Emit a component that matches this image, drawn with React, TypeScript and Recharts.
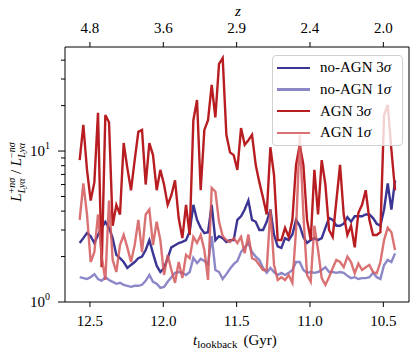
import { LineChart, Line, XAxis, YAxis, Legend, ReferenceArea } from 'recharts';

const FONT = '"Liberation Serif", "DejaVu Serif", serif';

// lookback time (Gyr), shared by all series
const tLookback = [
  12.57, 12.545, 12.52, 12.495, 12.47, 12.445, 12.42, 12.395, 12.37, 12.345,
  12.32, 12.295, 12.27, 12.245, 12.22, 12.195, 12.17, 12.145, 12.12, 12.095,
  12.07, 12.045, 12.02, 11.995, 11.97, 11.945, 11.92, 11.895, 11.87, 11.845,
  11.82, 11.795, 11.77, 11.745, 11.72, 11.695, 11.67, 11.645, 11.62, 11.595,
  11.57, 11.545, 11.52, 11.495, 11.47, 11.445, 11.42, 11.395, 11.37, 11.345,
  11.32, 11.295, 11.27, 11.245, 11.22, 11.195, 11.17, 11.145, 11.12, 11.095,
  11.07, 11.045, 11.02, 10.995, 10.97, 10.945, 10.92, 10.895, 10.87, 10.845,
  10.82, 10.795, 10.77, 10.745, 10.72, 10.695, 10.67, 10.645, 10.62, 10.595,
  10.57, 10.545, 10.52, 10.495, 10.47, 10.445, 10.42,
];

const noAgn3 = [
  2.46, 2.65, 2.86, 2.73, 2.46, 2.78, 3.1, 3.4, 3.1, 2.65,
  2.05, 1.95, 1.84, 1.68, 1.76, 1.84, 1.95, 2.0, 2.21, 2.57,
  2.1, 1.74, 1.58, 1.68, 1.95, 2.3, 2.38, 2.46, 2.5, 2.57,
  2.93, 4.4, 3.5, 3.1, 2.86, 2.9, 4.4, 2.57, 2.73, 2.65,
  2.5, 2.57, 2.57, 3.5, 3.7, 4.1, 4.7, 3.5, 3.4, 3.0,
  3.0, 3.4, 4.1, 2.78, 2.34, 2.28, 2.65, 2.57, 2.8, 3.5,
  3.2, 2.7, 2.46, 2.57, 2.65, 2.57, 2.65, 3.1, 3.6, 3.5,
  3.2, 3.2, 3.3, 3.65, 3.4, 3.7, 3.7, 3.7, 3.8, 3.8,
  3.6, 3.3, 3.2, 4.1, 6.1, 4.1, 6.4,
];

const noAgn1 = [
  1.46, 1.44, 1.42, 1.46, 1.53, 1.42, 1.38, 1.46, 1.4, 1.36,
  1.32, 1.34, 1.3, 1.28, 1.26, 1.28, 1.28, 1.3, 1.38, 1.51,
  1.36, 1.32, 1.24, 1.26, 1.36, 1.46, 1.56, 1.58, 1.56, 1.51,
  1.58, 1.96, 1.81, 1.93, 1.87, 1.78, 2.73, 1.63, 1.58, 1.42,
  1.53, 1.66, 1.78, 1.87, 2.14, 2.3, 2.46, 2.14, 2.0, 1.9,
  1.68, 1.56, 1.68, 1.58, 1.51, 1.56, 1.51, 1.56, 1.63, 1.84,
  1.84, 1.63, 1.56, 1.58, 1.56, 1.58, 1.63, 1.7, 1.58, 1.58,
  1.56, 1.58, 1.56, 1.49, 1.44, 1.46, 1.42, 1.44, 1.44, 1.46,
  1.56, 1.46, 1.42, 1.76, 1.9, 1.84, 2.1,
];

const agn3 = [
  8.7, 14.9, 7.5, 4.7, 6.2, 17.9, 1.7, 17.3, 15.5, 3.2,
  4.4, 3.8, 11.3, 7.7, 5.5, 8.7, 13.4, 13.8, 6.0, 11.3,
  9.4, 5.5, 7.5, 6.0, 4.4, 5.1, 6.4, 3.6, 2.65, 4.4,
  2.78, 16.0, 21.8, 5.5, 13.8, 16.0, 27.4, 16.7, 37.8, 41.3,
  12.8, 9.8, 9.4, 7.5, 14.2, 11.0, 11.8, 12.8, 8.1, 6.2,
  4.9, 3.8, 10.6, 6.9, 2.57, 2.57, 3.1, 2.7, 3.5, 8.1,
  11.0, 8.1, 3.5, 2.57, 7.5, 3.8, 8.7, 6.0, 3.0, 2.7,
  4.7, 8.1, 3.8, 2.78, 3.2, 2.3, 3.9, 4.4, 5.5, 3.5,
  2.78, 2.78, 2.9, 17.3, 20.2, 10.2, 5.5,
];

const agn1 = [
  3.5, 6.1, 3.8, 1.84, 2.14, 3.8, 2.0, 1.4, 4.7, 1.9,
  1.58, 2.38, 2.78, 2.3, 1.84, 2.38, 3.5, 2.14, 3.8, 4.1,
  2.38, 3.4, 2.57, 1.51, 2.05, 1.63, 1.34, 1.84, 1.44, 2.05,
  1.95, 2.7, 2.46, 2.78, 2.21, 1.4, 5.7, 5.4, 3.4, 2.73,
  2.57, 2.5, 2.65, 2.46, 2.7, 2.1, 2.8, 1.95, 1.9, 1.76,
  1.63, 1.63, 4.1, 1.76, 1.4, 1.46, 1.4, 1.51, 1.34, 3.0,
  12.8, 3.8, 1.51, 1.36, 3.2, 2.21, 1.44, 1.3, 1.46, 1.68,
  1.9, 1.84, 1.7, 2.0, 1.84, 1.55, 1.8, 1.63, 1.7, 1.76,
  1.58, 1.55, 1.84, 2.57, 3.1, 2.9, 2.21,
];

const tTicks = [12.5, 12.0, 11.5, 11.0, 10.5];
const zTickLabels = ['4.8', '3.6', '2.9', '2.4', '2.0'];
const yTicks = [1, 2, 3, 4, 5, 6, 7, 8, 9, 10, 20, 30, 40];

const X_MAX = 12.67;
const X_MIN = 10.325;
const Y_MAX = 48.9;

const series = [
  { key: 'noAgn3', name: 'no-AGN 3', color: '#3b3594', opacity: 1 },
  { key: 'noAgn1', name: 'no-AGN 1', color: '#7f7bc2', opacity: 0.9 },
  { key: 'agn3', name: 'AGN 3', color: '#b81d22', opacity: 1 },
  { key: 'agn1', name: 'AGN 1', color: '#d4585b', opacity: 0.85 },
];

const data = tLookback.map((t, i) => ({
  t,
  noAgn3: noAgn3[i],
  noAgn1: noAgn1[i],
  agn3: agn3[i],
  agn1: agn1[i],
}));

const LogTick = (props: any) => {
  const { x, y, payload } = props;
  const v = payload.value;
  const major = v === 1 || v === 10;
  const len = major ? 7 : 4;
  return (
    <g>
      <line x1={x - len} y1={y} x2={x} y2={y} stroke="#000" strokeWidth={1} />
      {major && (
        <text x={x - 15} y={y + 5} textAnchor="end" fontFamily={FONT} fontSize={15} fill="#000">
          10
          <tspan dy={-7} fontSize={10}>{v === 1 ? '0' : '1'}</tspan>
        </text>
      )}
    </g>
  );
};

const YLabel = () => (
  <text
    transform="rotate(-90 21 172)"
    x={21}
    y={172}
    textAnchor="middle"
    fontFamily={FONT}
    fontSize={15}
    fill="#000"
  >
    <tspan fontStyle="italic">L</tspan>
    <tspan fontSize={10} dy={4} fontStyle="italic">Lyα</tspan>
    <tspan fontSize={10} dx={-15} dy={-10}>+</tspan>
    <tspan fontSize={10} fontStyle="italic">nσ</tspan>
    <tspan dy={6}> / </tspan>
    <tspan fontStyle="italic">L</tspan>
    <tspan fontSize={10} dy={4} fontStyle="italic">Lyα</tspan>
    <tspan fontSize={10} dx={-15} dy={-10}>−</tspan>
    <tspan fontSize={10} fontStyle="italic">nσ</tspan>
  </text>
);

const XLabel = () => (
  <text x={193} y={345} fontFamily={FONT} fontSize={15} fill="#000">
    <tspan fontStyle="italic">t</tspan>
    <tspan fontSize={11} dy={3}>lookback</tspan>
    <tspan dy={-3} dx={6}>(Gyr)</tspan>
  </text>
);

const ZLabel = () => (
  <text x={238} y={16} textAnchor="middle" fontFamily={FONT} fontSize={15} fontStyle="italic" fill="#000">
    z
  </text>
);

const LegendBox = () => (
  <div
    style={{
      border: '1px solid #d0d0d0',
      borderRadius: 4,
      background: 'rgba(255,255,255,0.8)',
      padding: '1px 0',
      fontFamily: FONT,
      fontSize: 15,
      color: '#000',
    }}
  >
    {series.map((s) => (
      <div key={s.key} style={{ display: 'flex', alignItems: 'center', height: 21.7 }}>
        <div
          style={{
            marginLeft: 4,
            width: 33,
            height: 2.4,
            background: s.color,
            opacity: s.opacity,
          }}
        />
        <span style={{ marginLeft: 10, whiteSpace: 'nowrap' }}>
          {s.name}
          <i>σ</i>
        </span>
      </div>
    ))}
  </div>
);

export default function App() {
  return (
    <div style={{ position: 'absolute', left: 0, top: 0, width: 416, height: 357, background: '#fff' }}>
      <LineChart width={416} height={357} data={data} margin={{ top: 0, right: 7, bottom: 0, left: 0 }}>
        <XAxis
          dataKey="t"
          type="number"
          domain={[X_MIN, X_MAX]}
          reversed
          allowDataOverflow
          ticks={tTicks}
          interval={0}
          height={55}
          axisLine={false}
          tickLine={{ stroke: '#000' }}
          tickSize={5}
          tickMargin={8}
          tickFormatter={(v: number) => v.toFixed(1)}
          tick={{ fontFamily: FONT, fontSize: 15, fill: '#000' }}
          label={{ content: () => <XLabel /> }}
        />
        <XAxis
          xAxisId="top"
          orientation="top"
          dataKey="t"
          type="number"
          domain={[X_MIN, X_MAX]}
          reversed
          allowDataOverflow
          ticks={tTicks}
          interval={0}
          height={47}
          axisLine={false}
          tickLine={{ stroke: '#000' }}
          tickSize={5}
          tickMargin={9}
          tickFormatter={(_v: number, i: number) => zTickLabels[i]}
          tick={{ fontFamily: FONT, fontSize: 15, fill: '#000' }}
          label={{ content: () => <ZLabel /> }}
        />
        <YAxis
          scale="log"
          type="number"
          domain={[1, Y_MAX]}
          allowDataOverflow
          ticks={yTicks}
          interval={0}
          width={65}
          axisLine={false}
          tickLine={false}
          tickSize={0}
          tickMargin={0}
          tick={<LogTick />}
          label={{ content: () => <YLabel /> }}
        />
        {series.map((s) => (
          <Line
            key={s.key}
            type="linear"
            dataKey={s.key}
            name={s.name}
            stroke={s.color}
            strokeOpacity={s.opacity}
            strokeWidth={2.4}
            dot={false}
            isAnimationActive={false}
          />
        ))}
        <ReferenceArea
          x1={X_MAX}
          x2={X_MIN}
          y1={1}
          y2={Y_MAX}
          fill="none"
          fillOpacity={0}
          stroke="#000"
          strokeWidth={1}
          ifOverflow="visible"
        />
        <Legend
          layout="vertical"
          align="center"
          verticalAlign="middle"
          wrapperStyle={{ left: 272, top: 55, width: 131 }}
          content={() => <LegendBox />}
        />
      </LineChart>
    </div>
  );
}
